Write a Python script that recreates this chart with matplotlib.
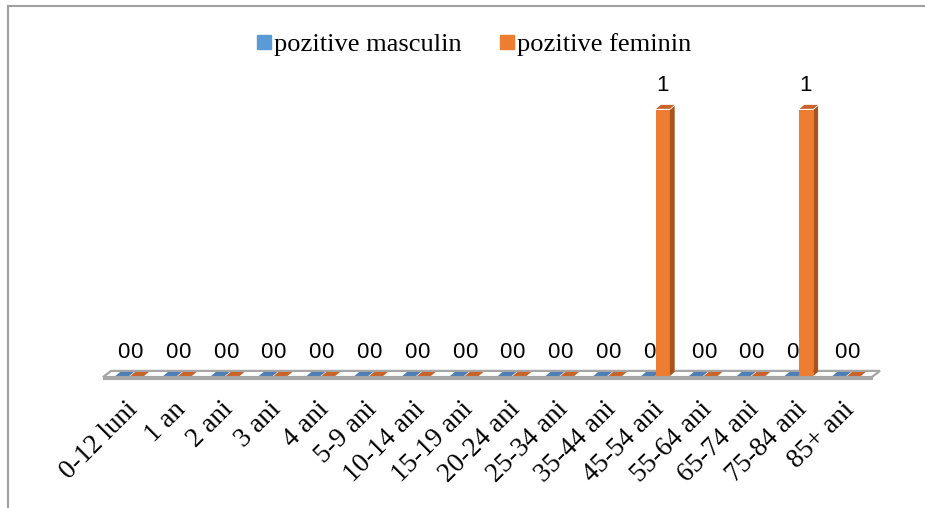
import matplotlib
matplotlib.use("Agg")
from matplotlib import pyplot as plt
from matplotlib.patches import Polygon
from matplotlib.lines import Line2D

categories = ["0-12 luni", "1 an", "2 ani", "3 ani", "4 ani", "5-9 ani", "10-14 ani",
              "15-19 ani", "20-24 ani", "25-34 ani", "35-44 ani", "45-54 ani",
              "55-64 ani", "65-74 ani", "75-84 ani", "85+ ani"]
masculin = [0, 0, 0, 0, 0, 0, 0, 0, 0, 0, 0, 0, 0, 0, 0, 0]
feminin = [0, 0, 0, 0, 0, 0, 0, 0, 0, 0, 0, 1, 0, 0, 1, 0]
series_names = ["pozitive masculin", "pozitive feminin"]

front_cols = ["#5B9BD5", "#ED7D31"]
side_cols = ["#3F6F9E", "#A8541C"]
top_cols = ["#4D7EB5", "#C8642A"]

fig = plt.figure(figsize=(9.25, 5.08), dpi=100)
ax = fig.add_axes([100 / 925, 108 / 508, 785 / 925, 340 / 508])
ax.set_xlim(-0.628, 15.795)
ax.set_ylim(-0.086, 1.187)
ax.axis("off")

w = 0.29
dx = 0.10
dy = 0.015

# floor slab
n = len(categories)
fl, fr = -0.565, n - 1 + 0.52
fdx, fdy = 0.17, 0.023
floor_top = Polygon([(fl, 0), (fr, 0), (fr + fdx, fdy), (fl + fdx, fdy)],
                    closed=True, facecolor="white", edgecolor="#A6A6A6", lw=1.6, zorder=1)
floor_front = Polygon([(fl, 0), (fr, 0), (fr, -0.009), (fl, -0.009)],
                      closed=True, facecolor="#A6A6A6", edgecolor="#A6A6A6", lw=0.8, zorder=1)
ax.add_patch(floor_top)
ax.add_patch(floor_front)

for s, vals in enumerate([masculin, feminin]):
    off = -0.16 if s == 0 else 0.15
    for i, v in enumerate(vals):
        x = i + off
        x0, x1 = x - w / 2, x + w / 2
        base = 0.004
        if v > 0:
            ax.bar(x, v - base, width=w, bottom=base, color=front_cols[s],
                   edgecolor="none", zorder=4)
            ax.add_patch(Polygon([(x1, base), (x1 + dx, base + dy), (x1 + dx, v + dy), (x1, v)],
                                 closed=True, facecolor=side_cols[s], edgecolor="none", zorder=4))
        ax.add_patch(Polygon([(x0, v + base), (x1, v + base), (x1 + dx, v + base + dy),
                              (x0 + dx, v + base + dy)],
                             closed=True, facecolor=top_cols[s], edgecolor="none", zorder=4))
        lx = i + (-0.14 if s == 0 else 0.13)
        ax.text(lx, v + 0.09, str(v), ha="center", va="center", fontsize=16,
                family="Liberation Sans", color="black", zorder=3)

for i, c in enumerate(categories):
    ax.text(i - 0.1, -0.075, c, rotation=45, ha="right", va="top", rotation_mode="anchor",
            fontsize=19.5, family="Liberation Serif")

handles = [Line2D([], [], marker="s", ls="none", markersize=10, color=front_cols[k])
           for k in range(2)]
fig.legend(handles, series_names, loc="center", bbox_to_anchor=(0.512, 1 - 44 / 508),
           ncol=2, frameon=False, handlelength=0.6, handletextpad=0.1, columnspacing=1.4,
           prop={"family": "Liberation Serif", "size": 19})

# outer frame (top and left visible)
fig.add_artist(Line2D([8 / 925, 1], [1 - 6 / 508, 1 - 6 / 508], color="#A0A0A0", lw=1.5,
                      transform=fig.transFigure))
fig.add_artist(Line2D([8 / 925, 8 / 925], [0, 1 - 6 / 508], color="#A0A0A0", lw=1.5,
                      transform=fig.transFigure))

fig.savefig("out.png", dpi=100)
